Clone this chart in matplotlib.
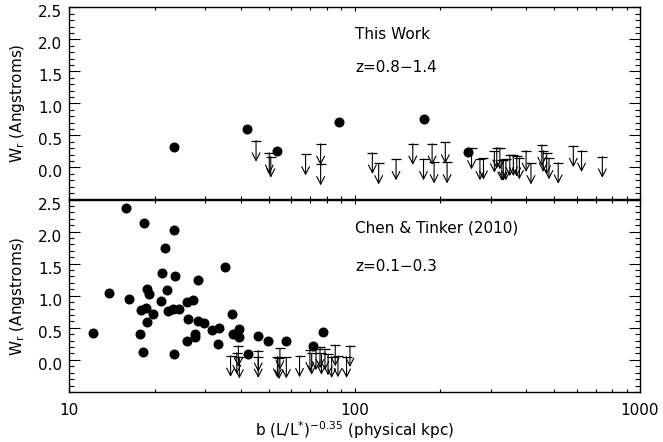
import matplotlib
matplotlib.use("Agg")
import matplotlib.pyplot as plt
from matplotlib.ticker import MultipleLocator, FixedLocator, NullFormatter, FixedFormatter
from matplotlib.transforms import ScaledTranslation

# ---------------- data ----------------
top_det_x = [23.3, 41.9, 53.4, 88.5, 175.7, 249]
top_det_y = [0.325, 0.60, 0.26, 0.715, 0.758, 0.237]

top_lim_x = [45.2, 50.3, 50.9, 67.4, 76.1, 76.1, 115.5, 121.5, 139.8, 160, 174.5, 187, 190,
             208, 211, 257, 275, 283, 309, 315, 323, 328, 332, 339, 350, 360, 370, 378,
             399, 415, 453, 458, 471, 480, 517, 584, 624, 738]
top_lim_y = [0.42, 0.23, 0.17, 0.205, 0.367, 0.05, 0.23, 0.065, 0.13, 0.37, 0.13, 0.37, 0.08,
             0.39, 0.08, 0.30, 0.13, 0.14, 0.25, 0.31, 0.30, 0.12, 0.12, 0.13, 0.195, 0.195, 0.185, 0.145,
             0.26, 0.065, 0.35, 0.26, 0.22, 0.145, 0.075, 0.335, 0.26, 0.17]

bot_det_x = [15.8, 18.3, 23.4, 21.7, 35.1, 21.2, 23.5, 28.4, 13.8, 18.7, 19.0, 22.1, 16.2, 21.05,
             17.9, 18.6, 19.7, 22.3, 23.1, 24.2, 25.9, 27.1, 26.2, 28.2, 29.7, 18.8, 31.8, 33.5,
             37.3, 37.6, 39.5, 39.5, 17.7, 27.6, 27.6, 25.9, 33.3, 12.1, 18.2, 23.4, 42.5, 46.0,
             49.9, 57.5, 71.7, 77.7]
bot_det_y = [2.36, 2.14, 2.02, 1.74, 1.45, 1.35, 1.31, 1.24, 1.05, 1.10, 1.03, 1.09, 0.95, 0.92,
             0.78, 0.81, 0.71, 0.77, 0.80, 0.80, 0.90, 0.93, 0.64, 0.60, 0.57, 0.59, 0.47, 0.50,
             0.71, 0.40, 0.48, 0.35, 0.40, 0.40, 0.355, 0.29, 0.255, 0.42, 0.12, 0.094, 0.089, 0.37,
             0.30, 0.30, 0.21, 0.44]

bot_lim_x = [36.8, 38.7, 39.2, 39.5, 46.0, 46.0, 53.7, 54.8, 54.4, 57.7, 64.2, 69.8, 70.8, 73.3,
             75.7, 76.6, 78.8, 80.8, 83.2, 85.6, 87.5, 93.8, 96.4]
bot_lim_y = [0.065, 0.11, 0.22, 0.04, 0.145, 0.05, 0.05, 0.18, 0.03, 0.04, 0.06, 0.15, 0.10, 0.17,
             0.20, 0.10, 0.17, 0.09, 0.05, 0.23, 0.06, 0.05, 0.22]

x_ticks = [10, 100, 1000]
x_ticklabels = ["10", "100", "1000"]
y_ticks = [0.0, 0.5, 1.0, 1.5, 2.0, 2.5]
y_ticklabels = ["0.0", "0.5", "1.0", "1.5", "2.0", "2.5"]

panel_texts = [("This Work", "z=0.8\u22121.4"), ("Chen & Tinker (2010)", "z=0.1\u22120.3")]

# ---------------- figure ----------------
plt.rcParams['font.family'] = ['DejaVu Sans']
W, H = 663, 442
fig = plt.figure(figsize=(W / 100, H / 100), dpi=100)
left, right = 69 / W, 640 / W
top_px, mid_px, bot_px = 7.3, 199.5, 392
ax1 = fig.add_axes([left, 1 - mid_px / H, right - left, (mid_px - top_px) / H])
ax2 = fig.add_axes([left, 1 - bot_px / H, right - left, (bot_px - mid_px) / H])

arrow_len = 0.33
FS = 11

def style(ax, show_xlabels):
    ax.set_xscale('log')
    ax.set_xlim(10, 1000)
    ax.set_ylim(-0.5, 2.5)
    ax.yaxis.set_major_locator(FixedLocator(y_ticks))
    ax.yaxis.set_major_formatter(FixedFormatter(y_ticklabels))
    ax.yaxis.set_minor_locator(MultipleLocator(0.1))
    ax.xaxis.set_major_locator(FixedLocator(x_ticks))
    ax.xaxis.set_minor_locator(FixedLocator([v * d for d in (10, 100) for v in range(2, 10)]))
    ax.xaxis.set_minor_formatter(NullFormatter())
    if show_xlabels:
        ax.xaxis.set_major_formatter(FixedFormatter(x_ticklabels))
    else:
        ax.xaxis.set_major_formatter(NullFormatter())
    ax.tick_params(axis='both', which='both', direction='in', top=True, right=True,
                   colors='black', width=0.8)
    ax.tick_params(axis='y', which='major', length=8, pad=5, labelsize=FS)
    ax.tick_params(axis='y', which='minor', length=3.8)
    ax.tick_params(axis='x', which='major', length=3.2, pad=8, labelsize=FS)
    ax.tick_params(axis='x', which='minor', length=2.0)
    for sp in ax.spines.values():
        sp.set_linewidth(1.0)
    for lab in ax.get_yticklabels():
        lab.set_transform(lab.get_transform() + ScaledTranslation(0, -4 / 100, fig.dpi_scale_trans))
    ax.set_ylabel("W$_\\mathregular{r}$ (Angstroms)", fontsize=FS)
    ax.yaxis.set_label_coords(-0.073, 0.5)

def draw(ax, dx, dy, lx, ly):
    ax.plot(dx, dy, 'o', color='black', markersize=6.2, linestyle='none', zorder=3)
    ax.plot(lx, ly, '_', color='black', markersize=6.5, markeredgewidth=0.9, linestyle='none')
    for x, y in zip(lx, ly):
        ax.annotate('', xy=(x, y - arrow_len), xytext=(x, y),
                    arrowprops=dict(arrowstyle='->,head_length=0.55,head_width=0.28',
                                    color='black', lw=0.8, shrinkA=0, shrinkB=0,
                                    mutation_scale=10))

style(ax1, False)
style(ax2, True)
draw(ax1, top_det_x, top_det_y, top_lim_x, top_lim_y)
draw(ax2, bot_det_x, bot_det_y, bot_lim_x, bot_lim_y)

ax1.text(100.8, 2.07, panel_texts[0][0], fontsize=FS, va='center', ha='left')
ax1.text(100.8, 1.555, panel_texts[0][1], fontsize=FS, va='center', ha='left')
ax2.text(100.8, 2.06, panel_texts[1][0], fontsize=FS, va='center', ha='left')
ax2.text(100.8, 1.46, panel_texts[1][1], fontsize=FS, va='center', ha='left')

ax2.set_xlabel("b (L/L$^\\mathregular{*}$)$^\\mathregular{-0.35}$ (physical kpc)", fontsize=FS)
ax2.xaxis.set_label_coords(0.5, -0.2)
ax2.xaxis.label.set_va('center')

fig.savefig("out.png", dpi=100)
